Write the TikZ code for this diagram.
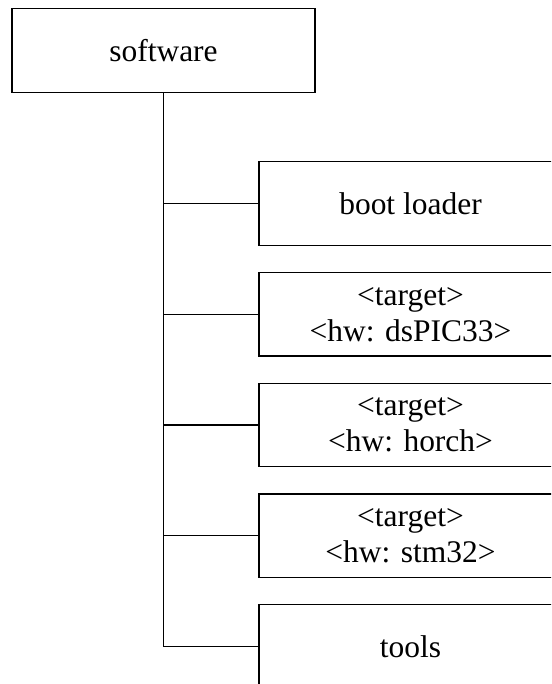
\documentclass[tikz,border=0pt]{standalone}
\usepackage{fontspec}
\setmainfont{Liberation Serif}
\tikzset{
  treebox/.style={draw=black, line width=0.9pt, rectangle, inner sep=0pt,
    minimum width=227.25pt, minimum height=62.5pt, align=center,
    font=\fontsize{23.6pt}{27pt}\selectfont},
  link/.style={draw=black, line width=0.9pt}
}
\begin{document}
\begin{tikzpicture}[x=0.75pt, y=-0.75pt]
  \useasboundingbox (0,0) rectangle (551,684);
  \clip (0,0) rectangle (551,684);
  \fill[white] (0,0) rectangle (551,684);

  % parent box
  \node[treebox] (root) at (163.5,50.5) {software};

  % child boxes, stacked down the right column
  \node[treebox] (boot)  at (410.5,203.5) {boot loader};
  \node[treebox] (dspic) at (410.5,314.3) {<target>\\<hw: dsPIC33>};
  \node[treebox] (horch) at (410.5,425.0) {<target>\\<hw: horch>};
  \node[treebox] (stm)   at (410.5,535.7) {<target>\\<hw: stm32>};
  \node[treebox] (tools) at (410.5,646.5) {tools};

  % trunk from the parent down to the last child
  \draw[link] (root.south) -- (root.south |- tools.west) -- (tools.west);
  % branches to the other children
  \foreach \c in {boot,dspic,horch,stm}
    \draw[link] (root.south |- \c.west) -- (\c.west);
\end{tikzpicture}
\end{document}
